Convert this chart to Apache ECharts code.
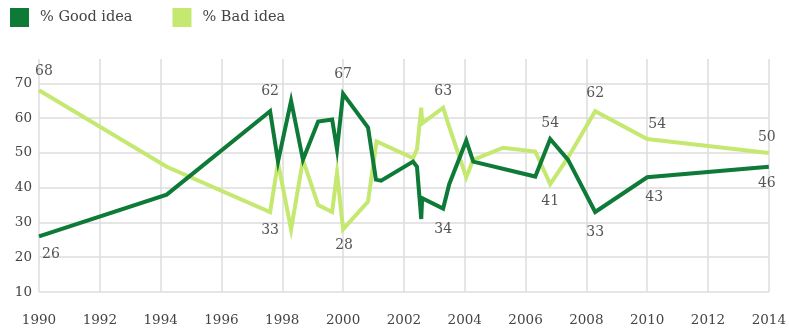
<!DOCTYPE html>
<html>
<head>
<meta charset="utf-8">
<script src="https://cdn.jsdelivr.net/npm/echarts@6/dist/echarts.min.js"></script>
<style>
html,body{margin:0;padding:0;background:#fff;}
#chart{width:789px;height:329px;}
</style>
</head>
<body>
<div id="chart"></div>
<script>
var seriesNames = ['% Good idea', '% Bad idea'];
var xTicks = [1990, 1992, 1994, 1996, 1998, 2000, 2002, 2004, 2006, 2008, 2010, 2012, 2014];
var yTicks = [10, 20, 30, 40, 50, 60, 70];

var goodYears = [1990, 1994.2, 1997.6, 1997.86, 1998.29, 1998.68, 1999.18, 1999.64, 1999.8, 2000.0, 2000.82, 2001.08, 2001.25, 2002.3, 2002.43, 2002.57, 2002.6, 2003.29, 2003.49, 2004.05, 2004.28, 2006.32, 2006.81, 2007.4, 2008.29, 2010.0, 2014.0];
var goodValues = [26, 38, 62, 47.5, 65, 48, 59, 59.6, 51, 67, 57.3, 42.3, 42, 47.5, 46, 31, 37, 34, 41, 53.5, 47.5, 43.2, 54, 48, 33, 43, 46];

var badYears = [1990, 1994.2, 1997.6, 1997.86, 1998.29, 1998.68, 1999.18, 1999.64, 1999.8, 2000.0, 2000.82, 2001.1, 2002.3, 2002.43, 2002.57, 2002.6, 2003.29, 2003.49, 2004.05, 2004.28, 2005.26, 2006.32, 2006.81, 2007.4, 2008.29, 2010.0, 2014.0];
var badValues = [68, 46, 33, 47.2, 28, 48, 35, 33, 44.3, 28, 36, 53.3, 48.5, 51, 63, 58.5, 63, 57.5, 43, 48, 51.5, 50.4, 41, 48.7, 62, 54, 50];

// which points carry a value label, and the label's shift (px) from the point
var goodLabels = {0: [12, 18], 2: [0, -20], 9: [0, -19], 17: [0, 21], 22: [0, -16], 24: [0, 20], 25: [7, 20], 26: [-2, 17]};
var badLabels = {0: [5, -19], 2: [0, 18], 9: [1, 16], 16: [0, -16], 22: [0, 17], 24: [0, -18], 25: [10, -15], 26: [-2, -16]};

var FONT = 'DejaVu Serif';
var LABEL_COLOR = '#555';

function build(years, values, labels) {
  return years.map(function (y, i) {
    var item = { value: [y, values[i]] };
    if (labels[i]) {
      item.label = {
        show: true,
        position: labels[i],
        align: 'center',
        verticalAlign: 'middle',
        formatter: String(Math.round(values[i]))
      };
    }
    return item;
  });
}

var chart = echarts.init(document.getElementById('chart'), null, { renderer: 'canvas' });
chart.setOption({
  animation: false,
  backgroundColor: '#fff',
  textStyle: { fontFamily: FONT },
  legend: {
    left: 10, top: 8, padding: 0,
    itemWidth: 19, itemHeight: 19, itemGap: 40,
    icon: 'rect',
    textStyle: { fontFamily: FONT, fontSize: 14.5, color: '#444', padding: [0, 0, 0, 6] },
    data: seriesNames
  },
  grid: { left: 39, right: 20, top: 59, bottom: 37 },
  xAxis: {
    type: 'value',
    min: xTicks[0], max: xTicks[xTicks.length - 1], interval: 2,
    axisLine: { show: false },
    axisTick: { show: false },
    axisLabel: { fontFamily: FONT, fontSize: 13.5, color: '#444', margin: 21, formatter: function (v) { return String(v); } },
    splitLine: { show: true, lineStyle: { color: '#dcdcdc', width: 1.5 } }
  },
  yAxis: {
    type: 'value',
    min: yTicks[0], max: 77, interval: 10,
    axisLine: { show: false },
    axisTick: { show: false },
    axisLabel: { fontFamily: FONT, fontSize: 13.5, color: '#444', margin: 7, showMaxLabel: false },
    splitLine: { show: true, showMaxLine: false, lineStyle: { color: '#dcdcdc', width: 1.5 } }
  },
  series: [
    {
      name: seriesNames[0], type: 'line', symbol: 'circle', symbolSize: 0.01, showSymbol: true,
      color: '#0e7a38',
      lineStyle: { width: 4, color: '#0e7a38', join: 'miter' },
      label: { fontFamily: FONT, fontSize: 14, color: LABEL_COLOR },
      labelLayout: { hideOverlap: false },
      data: build(goodYears, goodValues, goodLabels),
      z: 3
    },
    {
      name: seriesNames[1], type: 'line', symbol: 'circle', symbolSize: 0.01, showSymbol: true,
      color: '#c5e871',
      lineStyle: { width: 4, color: '#c5e871', join: 'miter' },
      label: { fontFamily: FONT, fontSize: 14, color: LABEL_COLOR },
      labelLayout: { hideOverlap: false },
      data: build(badYears, badValues, badLabels),
      z: 2
    }
  ]
});
</script>
</body>
</html>
